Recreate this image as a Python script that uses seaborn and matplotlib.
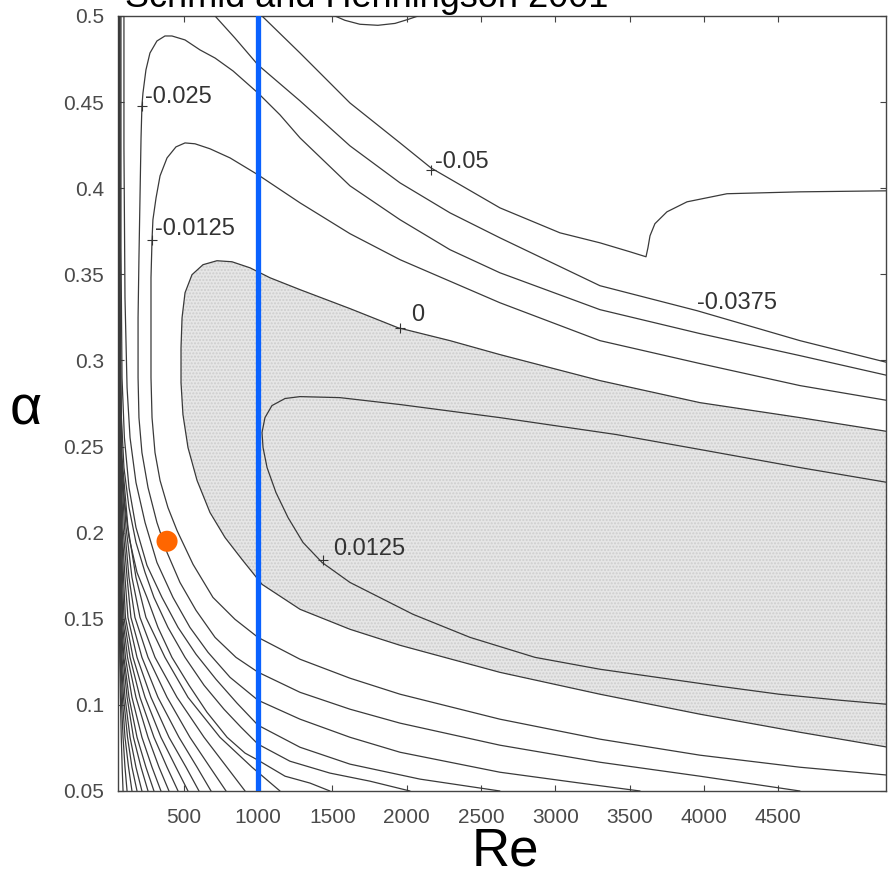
import matplotlib
matplotlib.use("Agg")
import matplotlib.pyplot as plt
import numpy as np
import pandas as pd
import seaborn as sns

# ---------------- axes ----------------
re_ticks = [500, 1000, 1500, 2000, 2500, 3000, 3500, 4000, 4500]
alpha_ticks = [0.05, 0.1, 0.15, 0.2, 0.25, 0.3, 0.35, 0.4, 0.45, 0.5]
alpha_tick_labels = ["0.05", "0.1", "0.15", "0.2", "0.25", "0.3", "0.35", "0.4", "0.45", "0.5"]
re_limits = [58, 5226]
alpha_limits = [0.05, 0.5]

# ---------------- iso-lines of c_i in the (Re, alpha) plane ----------------
# c_i = +0.0125 (inner tongue)
re_p0125 = [5240, 4647, 3974, 3409, 2628, 1956, 1552, 1283, 1182, 1094, 1047, 1027, 1034, 1061,
            1121, 1202, 1303, 1431, 1619, 2043, 2427, 2864, 3301, 3685, 4109, 4506, 4916, 5240]
alpha_p0125 = [0.2291, 0.2378, 0.2483, 0.257, 0.2668, 0.2744, 0.2784, 0.279, 0.2779, 0.2738, 0.2668,
               0.2581, 0.2494, 0.2378, 0.2233, 0.2088, 0.1943, 0.1827, 0.1711, 0.1526, 0.1392, 0.1276,
               0.1207, 0.116, 0.1108, 0.1062, 0.1027, 0.1003]

# c_i = 0 (neutral curve)
re_0 = [5240, 4647, 3974, 3301, 2628, 2292, 1942, 1619, 1283, 1081, 946, 825, 724, 630, 556, 509, 489,
        482, 482, 495, 529, 590, 677, 778, 892, 1027, 1283, 1619, 1956, 2628, 3301, 3974, 4647, 5240]
alpha_0 = [0.2587, 0.2668, 0.2755, 0.2883, 0.3034, 0.3115, 0.319, 0.3301, 0.3411, 0.348, 0.3538, 0.3573,
           0.3579, 0.3556, 0.3498, 0.3393, 0.3248, 0.3074, 0.2871, 0.2686, 0.2494, 0.2303, 0.2117, 0.1972,
           0.1845, 0.17, 0.1555, 0.1439, 0.1346, 0.1189, 0.1062, 0.0946, 0.0841, 0.0754]

# c_i = -0.0125
re_m0125 = [5240, 4647, 3974, 3301, 2628, 1956, 1619, 1283, 1000, 812, 677, 576, 509, 448, 388, 341, 314,
            293, 287, 280, 280, 280, 287, 307, 341, 394, 455, 563, 697, 845, 1000, 1283, 1619, 1956, 2628,
            3301, 3974, 4647, 5240]
alpha_m0125 = [0.2767, 0.2854, 0.2982, 0.3115, 0.3335, 0.3585, 0.3736, 0.3915, 0.4078, 0.4176, 0.4229,
               0.4258, 0.4263, 0.424, 0.4176, 0.4072, 0.3944, 0.3817, 0.3701, 0.348, 0.319, 0.29, 0.2668,
               0.2465, 0.2303, 0.2146, 0.2013, 0.1816, 0.1624, 0.1497, 0.1392, 0.1265, 0.1155, 0.1062,
               0.0917, 0.0801, 0.0708, 0.0638, 0.0592]

# c_i = -0.025
re_m025 = [5240, 4647, 3974, 3301, 2628, 2292, 1956, 1619, 1283, 1148, 1000, 832, 711, 610, 509, 421, 374,
           320, 273, 246, 226, 219, 213, 206, 199, 193, 193, 199, 219, 260, 320, 388, 475, 583, 711, 852,
           1000, 1283, 1619, 1956, 2628, 3301, 3974, 4647]
alpha_m025 = [0.2912, 0.3028, 0.3156, 0.3295, 0.3509, 0.3643, 0.3817, 0.4014, 0.4292, 0.4426, 0.4553,
              0.4681, 0.4756, 0.4803, 0.4861, 0.4884, 0.4884, 0.4855, 0.4785, 0.4687, 0.4553, 0.4478,
              0.4292, 0.3944, 0.3596, 0.3248, 0.29, 0.2668, 0.2465, 0.2262, 0.2059, 0.1885, 0.1711,
              0.1549, 0.1392, 0.1276, 0.119, 0.1073, 0.0975, 0.0894, 0.0766, 0.0667, 0.0586, 0.05]

# c_i = -0.0375 (left/lower part and upper-right part)
re_m0375_left = [98, 98, 105, 119, 139, 179, 240, 320, 428, 542, 664, 812, 1000, 1283, 1619, 1956, 2628,
                 3167, 3571]
alpha_m0375_left = [0.5, 0.4234, 0.3364, 0.2842, 0.2552, 0.2291, 0.2059, 0.1827, 0.1624, 0.145, 0.1305,
                    0.116, 0.1027, 0.0917, 0.0812, 0.0725, 0.0609, 0.0546, 0.05]
re_m0375_right = [711, 845, 1000, 1283, 1619, 1956, 2292, 2628, 3301, 3954, 4647, 5240]
alpha_m0375_right = [0.5, 0.4872, 0.4716, 0.4507, 0.4246, 0.4031, 0.3857, 0.3712, 0.3434, 0.3289,
                     0.3115, 0.2987]

# c_i = -0.05 (left/lower part and upper-right part with the kink)
re_m05_left = [78, 78, 85, 101, 132, 179, 253, 354, 462, 583, 717, 859, 1000, 1283, 1619, 2090, 2628]
alpha_m05_left = [0.5, 0.3654, 0.29, 0.2552, 0.2262, 0.203, 0.181, 0.1624, 0.145, 0.1294, 0.1149, 0.101,
                  0.0882, 0.0754, 0.0656, 0.0569, 0.05]
re_m05_right = [1027, 1283, 1619, 1956, 2164, 2628, 3032, 3301, 3503, 3611, 3624, 3638, 3671, 3752,
                3887, 4156, 4647, 5240]
alpha_m05_right = [0.5, 0.4785, 0.4495, 0.4263, 0.4118, 0.3886, 0.3741, 0.3683, 0.3631, 0.3602, 0.3654,
                   0.3724, 0.3794, 0.3863, 0.3921, 0.3968, 0.3979, 0.3985]

# c_i = -0.0625 and -0.075
re_m0625 = [71, 71, 81, 98, 132, 179, 240, 300, 394, 509, 637, 771, 886, 1000, 1215, 1484, 1754, 2023]
alpha_m0625 = [0.5, 0.3364, 0.2668, 0.2378, 0.2146, 0.1943, 0.1769, 0.1624, 0.145, 0.1276, 0.1114,
               0.0975, 0.087, 0.0772, 0.0673, 0.0604, 0.0557, 0.05]
re_m075 = [68, 68, 78, 98, 132, 186, 253, 327, 421, 536, 657, 792, 913, 1000, 1182, 1350, 1484]
alpha_m075 = [0.5, 0.3074, 0.2494, 0.2204, 0.1972, 0.1769, 0.1624, 0.145, 0.1276, 0.1114, 0.0957,
              0.0812, 0.072, 0.0679, 0.0586, 0.0546, 0.05]

# small closed-off arc under the top edge
re_top_arc = [1518, 1585, 1686, 1807, 1922, 2009, 2077]
alpha_top_arc = [0.5, 0.4975, 0.4952, 0.4946, 0.4957, 0.498, 0.5]

# dense family near the lower-left corner, sampled at shared alpha values
fan_alpha = [0.5, 0.3074, 0.2436, 0.203, 0.174, 0.1508, 0.1276, 0.1044, 0.0812, 0.0638, 0.05]
fan_re_m0875 = [68, 71, 85, 125, 179, 246, 374, 529, 744, 960, 1148]
fan_re_m1000 = [67, 70, 82, 112, 152, 206, 307, 455, 637, 791, 913]
fan_re_m1125 = [67, 69, 78, 102, 132, 172, 260, 388, 542, 677, 785]
fan_re_m1250 = [66, 69, 76, 92, 119, 145, 219, 327, 468, 590, 684]
fan_re_m1375 = [65, 68, 74, 85, 105, 125, 186, 280, 401, 516, 603]
fan_re_m1500 = [65, 67, 73, 82, 95, 108, 159, 240, 347, 448, 529]
fan_re_m1625 = [65, 67, 71, 80, 88, 98, 139, 206, 300, 388, 462]
fan_re_m1750 = [65, 66, 70, 76, 82, 90, 122, 179, 260, 334, 401]
fan_re_m1875 = [65, 65, 69, 74, 78, 85, 108, 152, 219, 287, 347]
fan_re_m2000 = [65, 65, 67, 71, 75, 80, 98, 132, 186, 246, 300]
fan_re_m2125 = [65, 65, 67, 70, 73, 77, 92, 119, 162, 213, 260]
fan_re_m2250 = [65, 65, 66, 69, 71, 75, 85, 105, 139, 179, 219]
fan_re_m2375 = [65, 65, 65, 67, 70, 73, 80, 95, 122, 152, 186]
fan_re_m2500 = [65, 65, 65, 67, 69, 71, 77, 87, 105, 129, 152]
fan_re_m2625 = [65, 65, 65, 66, 67, 69, 73, 80, 92, 105, 119]
fan_re_m2750 = [65, 65, 65, 65, 66, 67, 70, 74, 80, 86, 92]

# ---------------- reference Reynolds number and marked point ----------------
re_line = 1000
point_re = [388]
point_alpha = [0.195]

# ---------------- contour labels ----------------
label_text = ["-0.025", "-0.0125", "-0.05", "0", "0.0125"]
label_re = [219, 287, 2164, 1956, 1437]
label_alpha = [0.4478, 0.3701, 0.4107, 0.319, 0.1839]
free_label_text = "-0.0375"
free_label_re = 3954
free_label_alpha = 0.3289

title_text = "Schmid and Henningson 2001"

# ---------------- long-form table of all curves ----------------
curve_list = [
    ("+0.0125", re_p0125, alpha_p0125),
    ("0", re_0, alpha_0),
    ("-0.0125", re_m0125, alpha_m0125),
    ("-0.025", re_m025, alpha_m025),
    ("-0.0375 a", re_m0375_left, alpha_m0375_left),
    ("-0.0375 b", re_m0375_right, alpha_m0375_right),
    ("-0.05 a", re_m05_left, alpha_m05_left),
    ("-0.05 b", re_m05_right, alpha_m05_right),
    ("-0.0625", re_m0625, alpha_m0625),
    ("-0.075", re_m075, alpha_m075),
    ("top arc", re_top_arc, alpha_top_arc),
]
fan_list = [fan_re_m0875, fan_re_m1000, fan_re_m1125, fan_re_m1250, fan_re_m1375, fan_re_m1500,
            fan_re_m1625, fan_re_m1750, fan_re_m1875, fan_re_m2000, fan_re_m2125, fan_re_m2250,
            fan_re_m2375, fan_re_m2500, fan_re_m2625, fan_re_m2750]
for i, r in enumerate(fan_list):
    curve_list.append((f"fan {i}", r, fan_alpha))

frames = [pd.DataFrame({"curve": name, "step": np.arange(len(r)), "Re": r, "alpha": a})
          for name, r, a in curve_list]
df = pd.concat(frames, ignore_index=True)

# ---------------- drawing ----------------
sns.set_theme(style="white")
plt.rcParams["font.family"] = ["Liberation Sans", "DejaVu Sans"]

fig = plt.figure(figsize=(8.88, 8.77), dpi=100)
ax = fig.add_axes([118 / 888, 1 - 791 / 877, 768 / 888, 775 / 877])

# unstable region (inside the neutral curve)
ax.fill(re_0, alpha_0, facecolor="#e6e6e6", edgecolor="#cdcdcd", hatch=".....", linewidth=0, zorder=1)

sns.lineplot(data=df, x="Re", y="alpha", units="curve", estimator=None, sort=False,
             color="#3a3a3a", linewidth=0.9, ax=ax, zorder=3, legend=False)

ax.axvline(re_line, color="#0a62ff", linewidth=3.8, zorder=4)
sns.scatterplot(x=point_re, y=point_alpha, s=230, color="#ff6600", edgecolor="none", ax=ax, zorder=5)

# contour labels with their anchor crosses
sns.scatterplot(x=label_re, y=label_alpha, marker="+", s=45, color="#333333", linewidth=0.8,
                ax=ax, zorder=4)
offsets = [(2, 2), (2, 3.6), (3, 1.5), (8, 5), (7, 3.6)]
for txt, r, a, off in zip(label_text, label_re, label_alpha, offsets):
    ax.annotate(txt, xy=(r, a), xytext=off, textcoords="offset points", ha="left", va="baseline",
                fontsize=17, color="#333333", zorder=6)
ax.annotate(free_label_text, xy=(free_label_re, free_label_alpha), xytext=(0, 1),
            textcoords="offset points", ha="left", va="baseline", fontsize=17, color="#333333", zorder=6)

ax.set_xlim(re_limits)
ax.set_ylim(alpha_limits)
ax.set_xticks(re_ticks)
ax.set_xticklabels([str(t) for t in re_ticks])
ax.set_yticks(alpha_ticks)
ax.set_yticklabels(alpha_tick_labels)
ax.tick_params(axis="both", direction="in", length=4, width=0.8, color="#444444",
               top=True, right=True, bottom=True, left=True, labelsize=15, labelcolor="#4a4a4a")
ax.tick_params(axis="x", pad=12)
ax.tick_params(axis="y", pad=10)
for sp in ax.spines.values():
    sp.set_visible(True)
    sp.set_color("#444444")
    sp.set_linewidth(1.0)

ax.set_xlabel("Re", fontsize=38, color="black", va="center")
ax.xaxis.set_label_coords(0.504, -0.078)
ax.set_ylabel("α", fontsize=40, color="black", rotation=0, ha="center", va="center")
ax.yaxis.set_label_coords(-0.1198, 0.4916)

fig.text(125 / 888, 1 - 7 / 877, title_text, fontsize=26, ha="left", va="baseline", color="black")

fig.savefig("out.png", dpi=100)
